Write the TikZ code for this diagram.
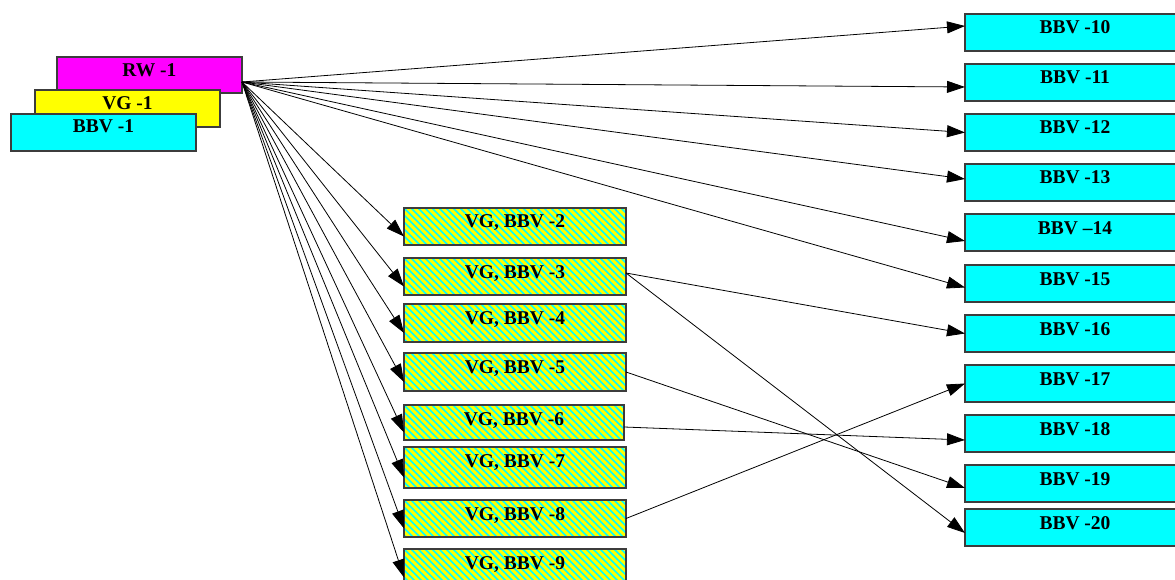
\documentclass[tikz,border=0pt]{standalone}
\usepackage{fontspec}
\setmainfont{Liberation Serif}
\usetikzlibrary{arrows.meta}
\definecolor{mag}{RGB}{255,0,255}
\definecolor{yel}{RGB}{255,255,0}
\definecolor{cya}{RGB}{0,255,255}
\definecolor{bordergray}{RGB}{60,60,60}
\begin{document}
\begin{tikzpicture}[x=1pt,y=-1pt,
  box/.style={draw=bordergray, line width=1.2pt, anchor=north west, inner sep=0pt, outer sep=0pt,
    text height=20pt, text depth=17pt, minimum height=37pt,
    font=\fontsize{19.5}{20}\selectfont\bfseries},
  leftbox/.style={box, minimum width=185pt},
  rightbox/.style={box, minimum width=220pt, fill=cya},
  midbox/.style={box, minimum width=222pt, fill=yel,
    path picture={\foreach \i in {0,1,...,40} {\draw[cya,line width=1.6pt] ([xshift={(\i*7-49)*1pt}]path picture bounding box.north west) -- ++(49pt,-49pt);}}},
  conn/.style={draw=black, line width=0.8pt, -{Triangle[length=18pt,width=12pt]}}]
\useasboundingbox[fill=white] (0,0) rectangle (1175,580);

% left stack
\node[leftbox, fill=mag, minimum height=36pt, text depth=16pt] (rw1) at (57,57) {RW -1};
\node[leftbox, fill=yel] (vg1) at (35,90) {VG -1};
\node[leftbox, fill=cya, text height=19pt, text depth=18pt] (bbv1) at (11,114) {BBV -1};

% middle boxes
\node[midbox] (m2) at (404,208) {VG, BBV -2};
\node[midbox] (m3) at (404,258) {VG, BBV -3};
\node[midbox, minimum height=38pt, text depth=18pt] (m4) at (404,304) {VG, BBV -4};
\node[midbox, minimum height=38pt, text depth=18pt] (m5) at (404,353) {VG, BBV -5};
\node[midbox, minimum width=220pt, minimum height=35pt, text depth=15pt] (m6) at (404,405) {VG, BBV -6};
\node[midbox, minimum height=41pt, text depth=21pt] (m7) at (404,447) {VG, BBV -7};
\node[midbox] (m8) at (404,500) {VG, BBV -8};
\node[midbox] (m9) at (404,549) {VG, BBV -9};

% right boxes
\node[rightbox] (r10) at (965,14) {BBV -10};
\node[rightbox] (r11) at (965,64) {BBV -11};
\node[rightbox] (r12) at (965,114) {BBV -12};
\node[rightbox] (r13) at (965,164) {BBV -13};
\node[rightbox] (r14) at (965,214) {BBV –14};
\node[rightbox] (r15) at (965,265) {BBV -15};
\node[rightbox] (r16) at (965,315) {BBV -16};
\node[rightbox] (r17) at (965,365) {BBV -17};
\node[rightbox] (r18) at (965,415) {BBV -18};
\node[rightbox] (r19) at (965,465) {BBV -19};
\node[rightbox] (r20) at (965,509) {BBV -20};

\coordinate (src) at ([yshift=-7pt]rw1.east);

% from RW-1 to right boxes
\draw[conn] (src) -- ([yshift=6.5pt]r10.west);
\draw[conn] (src) -- ([yshift=-4.5pt]r11.west);
\draw[conn] (src) -- (r12.west);
\draw[conn] (src) -- ([yshift=3.5pt]r13.west);
\draw[conn] (src) -- ([yshift=-8.5pt]r14.west);
\draw[conn] (src) -- ([yshift=-4pt]r15.west);

% from RW-1 to middle boxes
\foreach \m in {m2,m3,m4,m5,m6,m7,m8,m9}
  \draw[conn] (src) -- ([yshift=-10pt]\m.west);

% from middle boxes to right boxes
\draw[conn] ([yshift=3.5pt]m3.east) -- (r16.west);
\draw[conn] ([yshift=3.5pt]m3.east) -- ([yshift=-5.5pt]r20.west);
\draw[conn] (m5.east) -- ([yshift=-4.5pt]r19.west);
\draw[conn] ([yshift=-4.5pt]m6.east) -- ([yshift=-6.5pt]r18.west);
\draw[conn] (m8.east) -- (r17.west);
\end{tikzpicture}
\end{document}
